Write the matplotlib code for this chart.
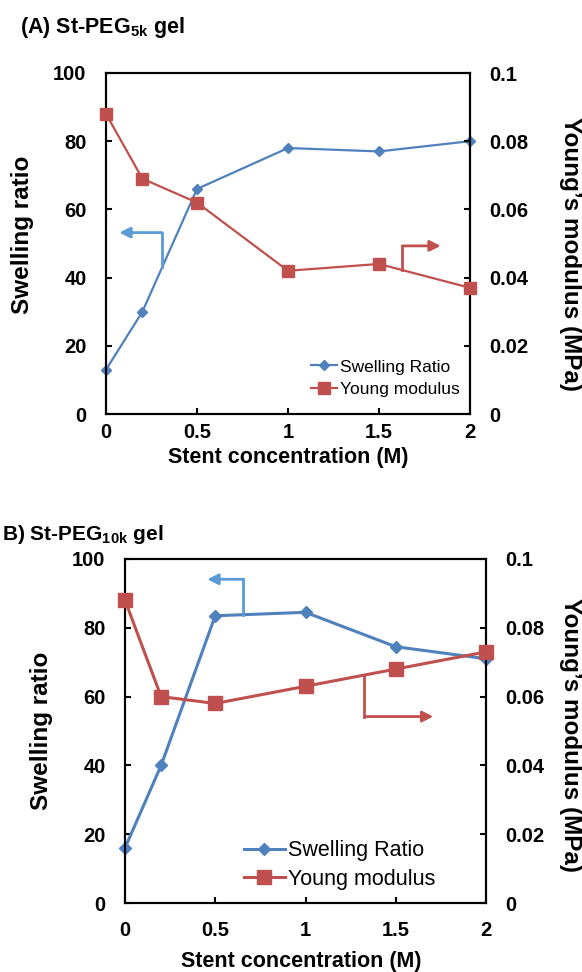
import matplotlib
matplotlib.use('Agg')
import matplotlib.pyplot as plt

plt.rcParams['font.family'] = ['Liberation Sans', 'DejaVu Sans']
plt.rcParams['font.weight'] = 'bold'
plt.rcParams['axes.labelweight'] = 'bold'
plt.rcParams['mathtext.fontset'] = 'custom'
plt.rcParams['mathtext.rm'] = 'Liberation Sans'
plt.rcParams['mathtext.bf'] = 'Liberation Sans:bold'

# Dados
concentracao = [0, 0.2, 0.5, 1, 1.5, 2]
swelling_5k = [13, 30, 66, 78, 77, 80]
young_5k = [0.088, 0.069, 0.062, 0.042, 0.044, 0.037]
swelling_10k = [16, 40, 83.5, 84.5, 74.5, 71]
young_10k = [0.088, 0.060, 0.058, 0.063, 0.068, 0.073]

x_ticks = [0, 0.5, 1, 1.5, 2]
x_labels = ['0', '0.5', '1', '1.5', '2']
left_ticks = [0, 20, 40, 60, 80, 100]
right_ticks = [0, 0.02, 0.04, 0.06, 0.08, 0.1]
right_labels = ['0', '0.02', '0.04', '0.06', '0.08', '0.1']

AZUL = '#4F81BD'
AZUL_SETA = '#5B9BD5'
VERMELHO = '#C0504D'
W, H = 582, 972


def seta(ax, x0, y0, y1, x2, cor, lw):
    # Linha vertical ligando a curva e seta horizontal apontando para o eixo
    ax.plot([x0, x0], [y0, y1], color=cor, lw=lw, solid_capstyle='projecting', zorder=4)
    ax.annotate('', xy=(x2, y1), xytext=(x0, y1),
                arrowprops=dict(arrowstyle='-|>', color=cor, lw=lw, mutation_scale=16,
                                shrinkA=0, shrinkB=0), zorder=4)


def painel(caixa, swelling, young, lw, ms_d, ms_s, xpad, leg_xy, leg_size, leg_hl, leg_sp,
           ylab_l, ylab_r, xlab):
    ax = fig.add_axes([caixa[0] / W, 1 - caixa[3] / H, (caixa[2] - caixa[0]) / W,
                       (caixa[3] - caixa[1]) / H])
    ax2 = ax.twinx()

    l1, = ax.plot(concentracao, swelling, color=AZUL, lw=lw, marker='D', ms=ms_d,
                  label='Swelling Ratio', zorder=3, clip_on=False)
    l2, = ax2.plot(concentracao, young, color=VERMELHO, lw=lw, marker='s', ms=ms_s,
                   label='Young modulus', zorder=3, clip_on=False)

    ax.set_xlim(0, 2)
    ax.set_ylim(0, 100)
    ax2.set_ylim(0, 0.1)
    ax.set_xticks(x_ticks)
    ax.set_xticklabels(x_labels)
    ax.set_yticks(left_ticks)
    ax2.set_yticks(right_ticks)
    ax2.set_yticklabels(right_labels)

    for a in (ax, ax2):
        for s in a.spines.values():
            s.set_linewidth(1.5)
    ax.tick_params(axis='y', direction='in', length=4, width=1.5, labelsize=14.5, pad=14)
    ax.tick_params(axis='x', direction='in', length=4, width=1.5, labelsize=14.5, pad=xpad)
    ax2.tick_params(axis='y', direction='in', length=4, width=1.5, labelsize=14.5, pad=14)

    ax.set_ylabel('Swelling ratio', fontsize=17.5, va='center')
    ax.yaxis.set_label_coords(*ylab_l)
    ax2.set_ylabel('Young\u2019s modulus (MPa)', fontsize=17.5, rotation=270, va='center')
    ax2.yaxis.set_label_coords(*ylab_r)
    ax.set_xlabel('Stent concentration (M)', fontsize=15.5, va='center')
    ax.xaxis.set_label_coords(*xlab)

    ax2.legend([l1, l2], ['Swelling Ratio', 'Young modulus'], loc='center left',
               bbox_to_anchor=(leg_xy[0] / W, 1 - leg_xy[1] / H), bbox_transform=fig.transFigure,
               frameon=False, prop={'size': leg_size, 'weight': 'normal'}, handlelength=leg_hl,
               handletextpad=0.15, labelspacing=leg_sp, borderpad=0, borderaxespad=0)
    return ax, ax2


fig = plt.figure(figsize=(W / 100, H / 100), dpi=100)

# (A) St-PEG 5k
axA, axA2 = painel((106, 73, 470, 414), swelling_5k, young_5k, 1.6, 5.6, 8, 6.5,
                   (311, 378), 12.5, 1.5, 0.4, (-0.229, 0.525), (1.275, 0.469), (0.5, -0.129))
seta(axA, 0.306, 43, 53.2, 0.073, AZUL_SETA, 2)
seta(axA2, 1.628, 0.0422, 0.0493, 1.839, VERMELHO, 2)
fig.text(20 / W, 1 - 27.5 / H, r'(A) St-PEG$_{\mathbf{5k}}$ gel', fontsize=15.5,
         ha='left', va='center')

# (B) St-PEG 10k
axB, axB2 = painel((125, 559, 486, 903), swelling_10k, young_10k, 2.2, 6.6, 10, 13,
                   (244, 865), 15.5, 1.9, 0.33, (-0.231, 0.5), (1.233, 0.488), (0.489, -0.171))
seta(axB, 0.655, 83.7, 94.1, 0.456, AZUL_SETA, 2)
seta(axB2, 1.326, 0.0664, 0.0542, 1.708, VERMELHO, 2)
fig.text(1.7 / W, 1 - 535 / H, r'B) St-PEG$_{\mathbf{10k}}$ gel', fontsize=15,
         ha='left', va='center')

fig.savefig('out.png', dpi=100)
